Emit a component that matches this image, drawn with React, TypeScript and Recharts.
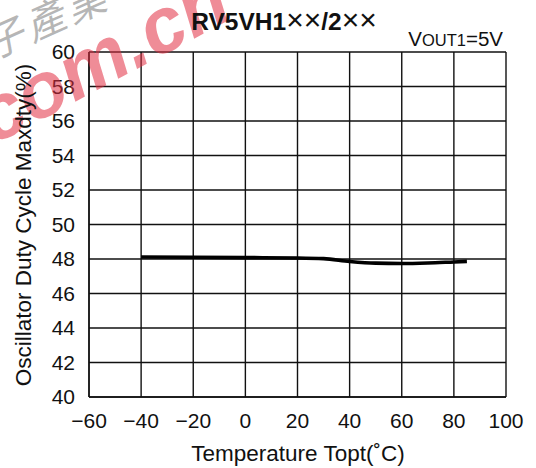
import React from 'react';
import { LineChart, Line, XAxis, YAxis, CartesianGrid } from 'recharts';

const temperatures = [-40, -20, 0, 20, 30, 40, 50, 60, 70, 80, 85];
const dutyCycle = [48.12, 48.1, 48.08, 48.06, 48.02, 47.86, 47.76, 47.74, 47.77, 47.83, 47.86];
const xTicks = [-60, -40, -20, 0, 20, 40, 60, 80, 100];
const yTicks = [40, 42, 44, 46, 48, 50, 52, 54, 56, 58, 60];
const xLabel = 'Temperature Topt(˚C)';
const yLabel = 'Oscillator Duty Cycle Maxdty(%)';

const data = temperatures.map((t, i) => ({ t, v: dutyCycle[i] }));
const FONT = 'Liberation Sans, Arial, Helvetica, sans-serif';

const fmt = (v: number) => String(v).replace('-', '\u2212');

export default function App() {
  return (
    <div style={{ position: 'absolute', left: 0, top: 0, width: 536, height: 468, background: '#fff', fontFamily: FONT }}>
      <LineChart width={536} height={468} data={data} margin={{ top: 52, right: 30, bottom: 0, left: 0 }}>
        <CartesianGrid stroke="#111" strokeWidth={1.4} />
        <XAxis
          dataKey="t"
          type="number"
          domain={[-60, 100]}
          ticks={xTicks}
          tickFormatter={fmt}
          height={71}
          tickLine={false}
          tickSize={6}
          tickMargin={10}
          axisLine={{ stroke: '#111', strokeWidth: 1.4 }}
          tick={{ fill: '#111', fontSize: 21, fontFamily: FONT }}
          interval={0}
        />
        <YAxis
          type="number"
          domain={[40, 60]}
          ticks={yTicks}
          width={89}
          tickLine={false}
          tickSize={6}
          tickMargin={8}
          axisLine={{ stroke: '#111', strokeWidth: 1.4 }}
          tick={{ fill: '#111', fontSize: 21, fontFamily: FONT }}
          interval={0}
        />
        <Line
          dataKey="v"
          type="monotone"
          stroke="#000"
          strokeWidth={3.6}
          dot={false}
          isAnimationActive={false}
        />
      </LineChart>
      <svg width={536} height={468} style={{ position: 'absolute', left: 0, top: 0, pointerEvents: 'none' }}>
        <text x={-8} y={60} fontSize={40} fontFamily="Noto Sans CJK SC, sans-serif" fontStyle="italic" letterSpacing={4} fill="rgba(110,110,110,0.5)" transform="rotate(-24 -8 60)">子產業</text>
        <text x={-6} y={145} fontSize={78} fontWeight="bold" fontStyle="italic" fontFamily={FONT} fill="rgba(225,45,65,0.55)" transform="rotate(-28 -6 145)">com.cn</text>
        <text x={284} y={30} textAnchor="middle" fontSize={24.5} fontFamily={FONT} fill="#111">
          <tspan fontWeight="bold">RV5VH1</tspan>
          <tspan fontSize={30}>××</tspan>
          <tspan fontWeight="bold">/2</tspan>
          <tspan fontSize={30}>××</tspan>
        </text>
        <text x={503} y={46} textAnchor="end" fontSize={20.5} fontFamily={FONT} fill="#111">
          <tspan>V</tspan>
          <tspan fontSize={16.5}>OUT1</tspan>
          <tspan>=5V</tspan>
        </text>
        <text x={298} y={461} textAnchor="middle" fontSize={22.5} fontFamily={FONT} fill="#111">{xLabel}</text>
        <text x={31} y={225} textAnchor="middle" fontSize={22.5} fontFamily={FONT} fill="#111" transform="rotate(-90 31 225)">{yLabel}</text>
      </svg>
    </div>
  );
}
